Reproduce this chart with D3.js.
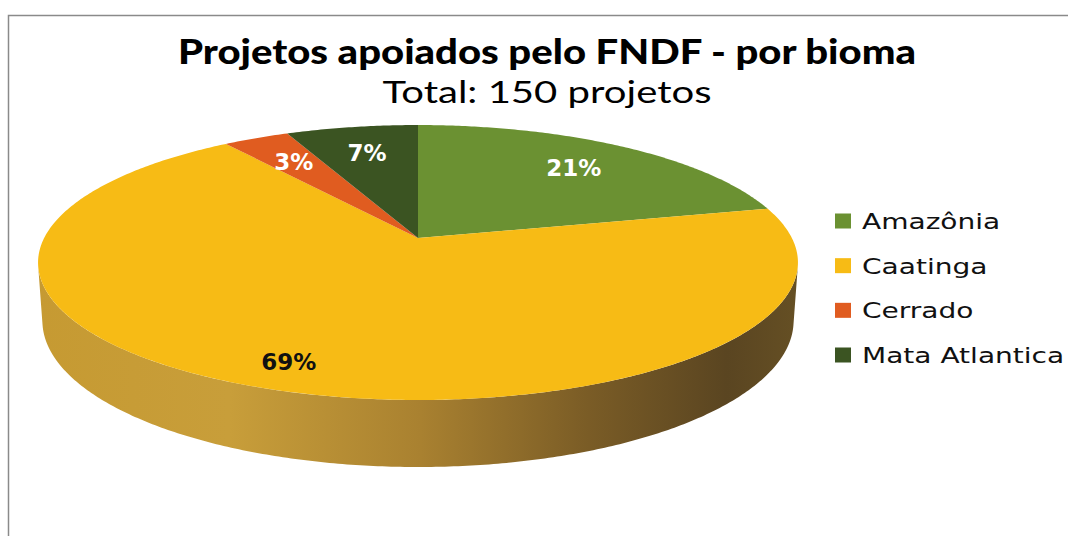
<!DOCTYPE html>
<html>
<head>
<meta charset="utf-8">
<script src="https://cdn.jsdelivr.net/npm/d3@7"></script>
<style>
  body { margin: 0; background: #fff; }
  svg { display: block; }
</style>
</head>
<body>
<div id="chart"></div>
<script>
// data
const biomas = ["Amazônia", "Caatinga", "Cerrado", "Mata Atlantica"];
const projetos = [32, 103, 5, 10];   // total 150
const cores = ["#6b9132", "#f7bb15", "#e05c20", "#3b5422"];
const corRotulo = ["#fff", "#111", "#fff", "#fff"];

const width = 1068, height = 536;

const svg = d3.select("#chart").append("svg")
    .attr("width", width)
    .attr("height", height);

// chart frame
svg.append("rect")
    .attr("x", 8.5).attr("y", 15.5)
    .attr("width", width + 20).attr("height", height + 20)
    .attr("fill", "#fff")
    .attr("stroke", "#8a8a8a")
    .attr("stroke-width", 1.5);

// title
svg.append("text")
    .attr("x", 547).attr("y", 64)
    .attr("text-anchor", "middle")
    .style("font-family", "Lato, 'Open Sans', sans-serif")
    .style("font-weight", "900")
    .style("font-size", "35px")
    .attr("textLength", 738).attr("lengthAdjust", "spacingAndGlyphs")
    .text("Projetos apoiados pelo FNDF - por bioma");
svg.append("text")
    .attr("x", 547).attr("y", 103)
    .attr("text-anchor", "middle")
    .style("font-family", "Lato, 'Open Sans', sans-serif")
    .style("font-size", "31px")
    .attr("textLength", 329).attr("lengthAdjust", "spacingAndGlyphs")
    .text("Total: 150 projetos");

// 3d perspective pie
const cx = 418, cy = 238;
const alpha = 0.364, D = 5.24, f = 1959, h = 0.165;
const sa = Math.sin(alpha), ca = Math.cos(alpha);

function project(X, Y, Z) {
  const s = Z * sa - Y * ca;
  const dep = D - Z * ca - Y * sa;
  return [cx + f * X / dep, cy + f * s / dep];
}
function rim(a, r, Y) {
  return project(r * Math.sin(a), Y, -r * Math.cos(a));
}
function arcPts(a0, a1, r, Y) {
  const n = Math.max(2, Math.ceil((a1 - a0) / 0.01));
  return d3.range(n + 1).map(i => rim(a0 + (a1 - a0) * i / n, r, Y));
}

const pie = d3.pie().sort(null).value(d => d)
    .startAngle(0).endAngle(2 * Math.PI);
const arcs = pie(projetos);
const line = d3.line();

// side wall gradient
const defs = svg.append("defs");
const grad = defs.append("linearGradient")
    .attr("id", "lado")
    .attr("gradientUnits", "userSpaceOnUse")
    .attr("x1", cx - 380).attr("x2", cx + 385)
    .attr("y1", 0).attr("y2", 0);
[[0, "#c69a32"], [0.25, "#c89e3a"], [0.5, "#a98130"], [0.72, "#7a5c26"], [0.9, "#5a4521"], [1, "#665024"]]
  .forEach(s => grad.append("stop").attr("offset", s[0]).attr("stop-color", s[1]));

// visible side: outward normal faces camera when Z > 1/(D*cos)
const zmin = 1 / (D * ca);
const visA0 = Math.acos(-zmin), visA1 = 2 * Math.PI - Math.acos(-zmin);

arcs.forEach((d, i) => {
  const a0 = Math.max(d.startAngle, visA0), a1 = Math.min(d.endAngle, visA1);
  if (a1 <= a0) return;
  const pts = arcPts(a0, a1, 1, 0).concat(arcPts(a0, a1, 1, -h).reverse());
  svg.append("path")
      .attr("d", line(pts) + "Z")
      .attr("fill", i === 1 ? "url(#lado)" : d3.color(cores[i]).darker(1));
});

// top faces
arcs.forEach((d, i) => {
  const pts = [project(0, 0, 0)].concat(arcPts(d.startAngle, d.endAngle, 1, 0));
  svg.append("path")
      .attr("d", line(pts) + "Z")
      .attr("fill", cores[i]);
});

// percentage labels
const fmt = d3.format(".0%");
const total = d3.sum(projetos);
arcs.forEach((d, i) => {
  const mid = (d.startAngle + d.endAngle) / 2;
  const r = i === 1 ? 0.85 : 0.74;
  const p = rim(mid, r, 0);
  svg.append("text")
      .attr("x", p[0]).attr("y", p[1])
      .attr("dy", "0.36em")
      .attr("text-anchor", "middle")
      .style("font-family", "'DejaVu Sans', Verdana, sans-serif")
      .style("font-weight", "bold")
      .style("font-size", "23px")
      .attr("fill", corRotulo[i])
      .text(fmt(d.data / total));
});

// legend
const y = d3.scalePoint().domain(biomas).range([221, 355]);
const leg = svg.append("g");
biomas.forEach((b, i) => {
  leg.append("rect")
      .attr("x", 835).attr("y", y(b) - 7.5)
      .attr("width", 16).attr("height", 15)
      .attr("fill", cores[i]);
  leg.append("text")
      .attr("x", 862).attr("y", y(b))
      .attr("dy", "0.36em")
      .style("font-family", "'DejaVu Sans', Verdana, sans-serif")
      .style("font-size", "22px")
      .attr("transform", `translate(862,0) scale(1.275,1) translate(-862,0)`)
      .attr("fill", "#111")
      .text(b);
});
</script>
</body>
</html>
